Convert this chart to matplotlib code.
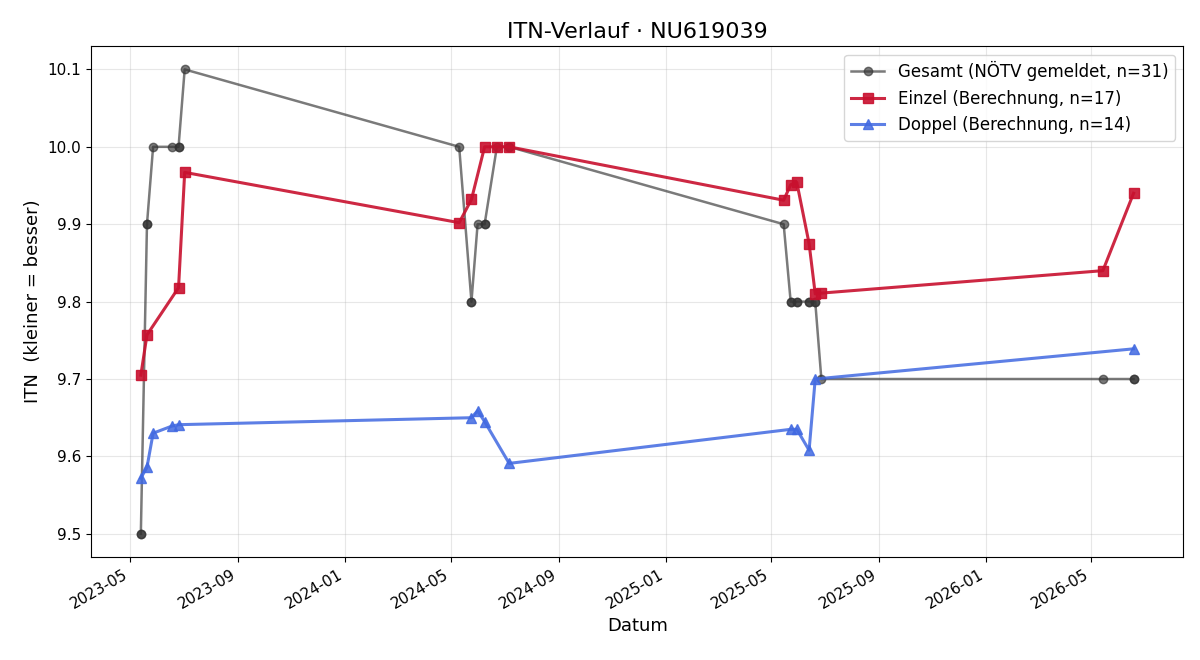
import numpy as np
import pandas as pd
import matplotlib
matplotlib.use("Agg")
import matplotlib.pyplot as plt
import matplotlib.dates as mdates

# Gesamt (all games, ITN as reported)
gesamt_dates = ["2023-05-13", "2023-05-13", "2023-05-20", "2023-05-20", "2023-05-27",
                "2023-06-17", "2023-06-25", "2023-06-25", "2023-07-02",
                "2024-05-10", "2024-05-24", "2024-05-24", "2024-05-31", "2024-06-08",
                "2024-06-08", "2024-06-22", "2024-07-06", "2024-07-06",
                "2025-05-15", "2025-05-23", "2025-05-23", "2025-05-30", "2025-05-30",
                "2025-06-13", "2025-06-13", "2025-06-20", "2025-06-20", "2025-06-27",
                "2026-05-14", "2026-06-18", "2026-06-18"]
gesamt_itn = [9.5, 9.5, 9.9, 9.9, 10.0,
              10.0, 10.0, 10.0, 10.1,
              10.0, 9.8, 9.8, 9.9, 9.9,
              9.9, 10.0, 10.0, 10.0,
              9.9, 9.8, 9.8, 9.8, 9.8,
              9.8, 9.8, 9.8, 9.8, 9.7,
              9.7, 9.7, 9.7]

einzel_dates = ["2023-05-13", "2023-05-20", "2023-06-25", "2023-07-02",
                "2024-05-10", "2024-05-24", "2024-06-08", "2024-06-22", "2024-07-06",
                "2025-05-15", "2025-05-23", "2025-05-30", "2025-06-13", "2025-06-20",
                "2025-06-27", "2026-05-14", "2026-06-18"]
einzel_itn = [9.705, 9.757, 9.818, 9.967,
              9.902, 9.932, 10.0, 10.0, 10.0,
              9.931, 9.951, 9.954, 9.875, 9.810,
              9.811, 9.840, 9.940]

doppel_dates = ["2023-05-13", "2023-05-20", "2023-05-27", "2023-06-17", "2023-06-25",
                "2024-05-24", "2024-05-31", "2024-06-08", "2024-07-06",
                "2025-05-23", "2025-05-30", "2025-06-13", "2025-06-20", "2026-06-18"]
doppel_itn = [9.572, 9.586, 9.630, 9.639, 9.641,
              9.650, 9.659, 9.645, 9.591,
              9.635, 9.635, 9.608, 9.700, 9.739]

fig, ax = plt.subplots(figsize=(12, 6.6), dpi=100)

ax.plot(pd.to_datetime(gesamt_dates), gesamt_itn, "-o", color="#333333", alpha=0.65,
        linewidth=1.8, markersize=6, label="Gesamt (NÖTV gemeldet, n=%d)" % len(gesamt_itn))
ax.plot(pd.to_datetime(einzel_dates), einzel_itn, "-s", color="#c8102e", alpha=0.9,
        linewidth=2.2, markersize=7, label="Einzel (Berechnung, n=%d)" % len(einzel_itn))
ax.plot(pd.to_datetime(doppel_dates), doppel_itn, "-^", color="#4169e1", alpha=0.85,
        linewidth=2.2, markersize=7, label="Doppel (Berechnung, n=%d)" % len(doppel_itn))

ax.set_title("ITN-Verlauf · NU619039", fontsize=16)
ax.set_xlabel("Datum", fontsize=13)
ax.set_ylabel("ITN  (kleiner = besser)", fontsize=13)
ax.xaxis.set_major_locator(mdates.MonthLocator(bymonth=[1, 5, 9]))
ax.xaxis.set_major_formatter(mdates.DateFormatter("%Y-%m"))
ax.tick_params(labelsize=11)
ax.grid(True, alpha=0.3)
ax.legend(loc="upper right", fontsize=12)
fig.autofmt_xdate()
fig.subplots_adjust(left=0.076, right=0.986, top=0.93, bottom=0.156)

fig.savefig("out.png", dpi=100)
